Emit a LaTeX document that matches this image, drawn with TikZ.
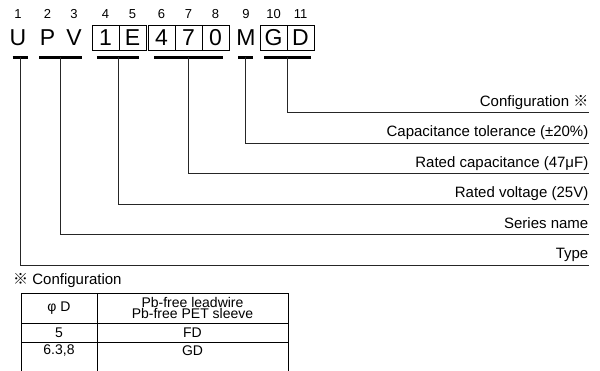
\documentclass[tikz,border=0pt]{standalone}
\usepackage{fontspec}
\setmainfont{Liberation Sans}
\newfontfamily\cjk{Noto Sans CJK JP}
\usetikzlibrary{positioning}
\tikzset{
  digit/.style={font=\fontsize{13}{13}\selectfont, inner sep=0pt},
  letter/.style={font=\fontsize{23}{23}\selectfont, inner sep=0pt},
  cell/.style={draw, line width=0.7pt, minimum width=27pt, minimum height=24.5pt,
    inner sep=0pt, outer sep=0pt, font=\fontsize{23}{23}\selectfont},
  bar/.style={line width=2.4pt},
  lead/.style={line width=0.9pt, black!85},
  lbl/.style={font=\fontsize{15}{15}\selectfont, inner sep=0pt, anchor=base east},
  grid/.style={line width=0.8pt},
  tcell/.style={font=\fontsize{14}{11}\selectfont, align=center, inner sep=0pt}
}
\begin{document}
\begin{tikzpicture}[x=1pt,y=1pt]

    \def\yb{313.5}
    \def\yc{333}
    \useasboundingbox (0,0) rectangle (600,371);

    %Digitos
    \foreach \i/\x in {1/18,2/47.5,3/74,4/105.5,5/132.5,6/161.5,7/188.5,8/215.5,9/246,10/273.5,11/300.5}{
        \node[digit] (n\i) at (\x,357) {\i};
    }

    %Codigo
    \node[letter] (c1) at (18,\yc) {U};
    \node[letter] (c2) at (47.5,\yc) {P};
    \node[letter] (c3) at (74,\yc) {V};
    \node[cell] (c4) at (105.5,\yc) {1};
    \node[cell,right=0pt of c4] (c5) {E};
    \node[cell] (c6) at (161.5,\yc) {4};
    \node[cell,right=0pt of c6] (c7) {7};
    \node[cell,right=0pt of c7] (c8) {0};
    \node[letter] (c9) at (246,\yc) {M};
    \node[cell] (c10) at (273.5,\yc) {G};
    \node[cell,right=0pt of c10] (c11) {D};

    %Lineas
    \foreach \i/\x/\w/\y/\t in {
        1/20.5/7.8/106/{Type},
        2/60.5/21.2/136.5/{Series name},
        3/118/21.2/167/{Rated voltage (25V)},
        4/188.3/34.3/197.5/{Rated capacitance (47μF)},
        5/245.8/7.5/228/{Capacitance tolerance (±20\%)},
        6/287.5/23.2/258.5/{Configuration {\cjk ※}}}{
        \coordinate (u\i) at (\x,\yb);
        \coordinate (e\i) at (588.5,\y);
        \draw[bar] ([xshift=-\w pt]u\i) -- ([xshift=\w pt]u\i);
        \draw[lead] (u\i) |- (e\i);
        \node[lbl] (l\i) at ([yshift=6pt]e\i) {\t};
    }

    %Tabla
    \node[font=\fontsize{15}{15}\selectfont, anchor=west, inner sep=0pt] (ttl) at (13,90) {{\cjk ※} Configuration};
    \draw[grid] (21,0) -- (21,78) -- (288,78) -- (288,0);
    \draw[grid] (97,0) -- (97,78);
    \draw[grid] (21,48) -- (288,48);
    \draw[grid] (21,29) -- (288,29);
    \node[tcell] (t11) at (59,63) {φ D};
    \node[tcell] (t12) at (192.5,63) {Pb-free leadwire\\Pb-free PET sleeve};
    \node[tcell] (t21) at (59,38.5) {5};
    \node[tcell] (t22) at (192.5,38.5) {FD};
    \node[tcell] (t31) at (59,20) {6.3,8};
    \node[tcell] (t32) at (192.5,20) {GD};

\end{tikzpicture}
\end{document}
